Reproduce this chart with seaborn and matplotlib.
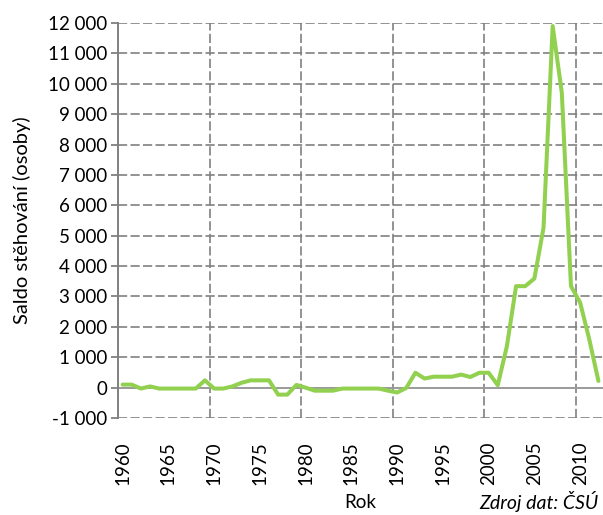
import numpy as np
import pandas as pd
import seaborn as sns
import matplotlib.pyplot as plt
from matplotlib.ticker import FuncFormatter

years = list(range(1960, 2013))
saldo = [100, 100, -30, 40, -30, -30, -30, -30, -30, 240,
         -30, -30, 40, 160, 240, 240, 240, -230, -230, 90,
         0, -100, -100, -100, -30, -30, -30, -30, -30, -100,
         -160, -10, 490, 300, 360, 360, 360, 430, 350, 490,
         490, 80, 1370, 3340, 3340, 3590, 5260, 11900, 9700, 3340,
         2800, 1590, 220]

y_ticks = list(range(-1000, 12001, 1000))
x_label_years = list(range(1960, 2013, 5))

df = pd.DataFrame({"Rok": years, "Saldo": saldo})

sns.set_theme(style="white")
plt.rcParams['font.family'] = ['Lato', 'DejaVu Sans']

fig = plt.figure(figsize=(6.03, 5.15), dpi=100)
ax = fig.add_axes([0.1957, 0.1883, 0.8043, 0.767])

grid_col = "#808080"
dash = (0, (5.5, 2))
# dashed grid, drawn by hand so the zero line can be solid
for v in y_ticks:
    if v == 0:
        continue
    ax.axhline(v, color=grid_col, lw=1.2, ls=dash, zorder=1)
for gx in np.arange(1969.5, 2013, 10):
    ax.axvline(gx, color=grid_col, lw=1.2, ls=dash, zorder=1)
ax.axhline(0, color="#9a9a9a", lw=1.4, zorder=1.5)

sns.lineplot(data=df, x="Rok", y="Saldo", color="#92D050", lw=2.9, ax=ax, zorder=3)

ax.set_xlim(1959.5, 2012.5)
ax.set_ylim(-1000, 12000)
ax.set_yticks(y_ticks)
ax.yaxis.set_major_formatter(FuncFormatter(lambda v, p: f"{int(v):,}".replace(",", " ")))
ax.set_xticks(x_label_years)
ax.set_xticklabels([str(y) for y in x_label_years], rotation=90)

for s in ["top", "right", "bottom"]:
    ax.spines[s].set_visible(False)
ax.spines["left"].set_color(grid_col)
ax.spines["left"].set_linewidth(1.4)

ax.tick_params(axis="y", which="major", left=True, length=5, width=1.3, color=grid_col,
               labelsize=13.5, pad=3, labelcolor="black")
ax.tick_params(axis="x", which="major", bottom=False, labelsize=13.5, pad=11, labelcolor="black")

ax.set_xlabel("Rok", fontsize=13.5, color="black", labelpad=6)
ax.set_ylabel("Saldo stěhování (osoby)", fontsize=14.5, color="black", labelpad=12)

fig.text(0.992, 0.006, "Zdroj dat: ČSÚ", ha="right", va="bottom", fontsize=14,
         style="italic", color="black")

fig.savefig("out.png", dpi=100)
